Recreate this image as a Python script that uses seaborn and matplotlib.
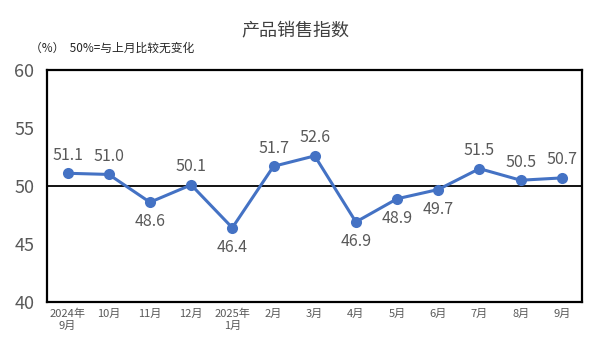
import numpy as np
import pandas as pd
import seaborn as sns
import matplotlib.pyplot as plt

months = ["2024年\n9月", "10月", "11月", "12月", "2025年\n1月", "2月", "3月",
          "4月", "5月", "6月", "7月", "8月", "9月"]
values = [51.1, 51.0, 48.6, 50.1, 46.4, 51.7, 52.6, 46.9, 48.9, 49.7, 51.5, 50.5, 50.7]
label_below = [False, False, True, False, True, False, False, True, True, True, False, False, False]

sns.set_theme(style="white")
plt.rcParams['font.family'] = ['Noto Sans CJK SC', 'DejaVu Sans']

df = pd.DataFrame({"pos": np.arange(len(months)), "value": values})

fig = plt.figure(figsize=(5.91, 3.54), dpi=100)
ax = fig.add_axes([0.0795, 0.147, 0.906, 0.655])

ax.axhline(50, color="black", linewidth=1.3, zorder=1)
sns.lineplot(x="pos", y="value", data=df, color="#4472C4", linewidth=2.2,
             marker="o", markersize=8, markeredgewidth=0, ax=ax, zorder=3)

for i, v in enumerate(values):
    if label_below[i]:
        ax.annotate(f"{v:.1f}", (i, v), xytext=(0, -8), textcoords="offset points",
                    ha="center", va="top", fontsize=11.5, color="#595959")
    else:
        ax.annotate(f"{v:.1f}", (i, v), xytext=(0, 7), textcoords="offset points",
                    ha="center", va="bottom", fontsize=11.5, color="#595959")

ax.set_xlim(-0.5, len(months) - 0.5)
ax.set_ylim(40, 60)
ax.set_yticks([40, 45, 50, 55, 60])
ax.set_xticks(range(len(months)))
ax.set_xticklabels(months, fontsize=8, color="#595959", linespacing=1.2)
ax.tick_params(axis="y", labelsize=13, colors="#595959", length=0, pad=9)
ax.tick_params(axis="x", length=0, pad=5)
ax.set_xlabel("")
ax.set_ylabel("")
for s in ax.spines.values():
    s.set_color("black")
    s.set_linewidth(1.6)

fig.text(0.5, 0.915, "产品销售指数", ha="center", va="center", fontsize=13, color="#404040")
fig.text(0.05, 0.865, "（%）  50%=与上月比较无变化", ha="left", va="center", fontsize=8.5, color="#262626")

plt.savefig("out.png", dpi=100)
